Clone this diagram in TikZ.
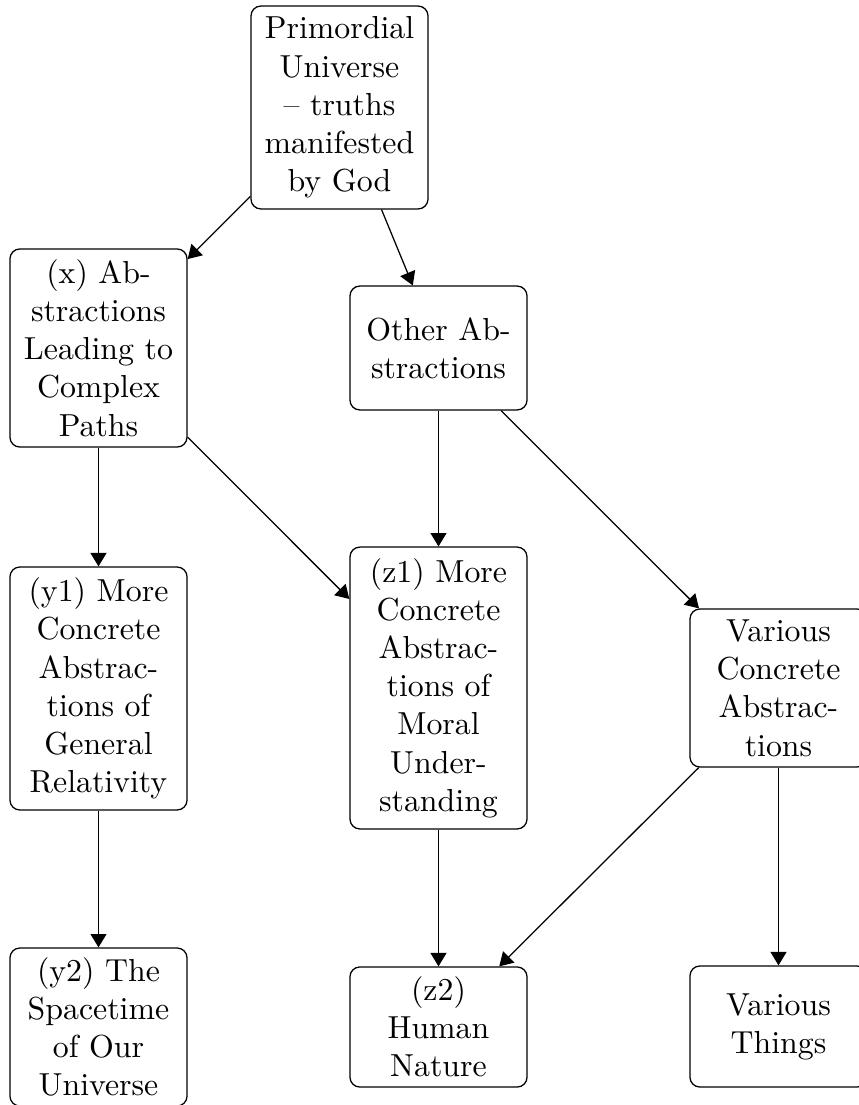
\documentclass[tikz,border=0pt]{standalone}
\usetikzlibrary{arrows.meta}
\begin{document}
\begin{tikzpicture}[x=0.314pt,y=-0.314pt,
  box/.style={draw, rounded corners=3.1pt, align=center, minimum width=55.6pt,
    inner sep=1.9pt, line width=0.4pt, font=\fontsize{10}{12}\selectfont},
  arr/.style={-{Triangle[length=4.2pt,width=5pt]}, line width=0.4pt}]
\useasboundingbox (0,0) rectangle (859,1105);
\node[box, minimum height=63.7pt] (top) at (339.5,107.5) {Primordial\\Universe\\-- truths\\manifested\\by God};
\node[box, minimum height=62.2pt] (x) at (98.5,348) {(x) Ab-\\stractions\\Leading to\\Complex\\Paths};
\node[box, minimum height=38.9pt] (other) at (438.5,348) {Other Ab-\\stractions};
\node[box, minimum height=76.3pt] (y1) at (98.5,688.5) {(y1) More\\Concrete\\Abstrac-\\tions of\\General\\Relativity};
\node[box, minimum height=88.5pt] (z1) at (438.5,688) {(z1) More\\Concrete\\Abstrac-\\tions of\\Moral\\Under-\\standing};
\node[box, minimum height=49.6pt] (vc) at (778.5,688) {Various\\Concrete\\Abstrac-\\tions};
\node[box, minimum height=49.6pt] (y2) at (98.5,1027) {(y2) The\\Spacetime\\of Our\\Universe};
\node[box, minimum height=37.7pt] (z2) at (438.5,1027) {(z2)\\Human\\Nature};
\node[box, minimum height=38pt] (vt) at (778.5,1026.5) {Various\\Things};
\draw[arr] (top) -- (x);
\draw[arr] (top) -- (other);
\draw[arr] (x) -- (y1);
\draw[arr] (x) -- (z1);
\draw[arr] (other) -- (z1);
\draw[arr] (other) -- (vc);
\draw[arr] (y1) -- (y2);
\draw[arr] (z1) -- (z2);
\draw[arr] (vc) -- (z2);
\draw[arr] (vc) -- (vt);
\end{tikzpicture}
\end{document}
